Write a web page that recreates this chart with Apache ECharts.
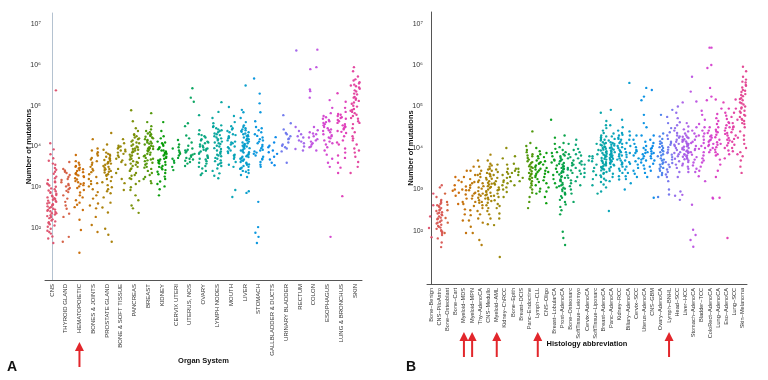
<!DOCTYPE html>
<html><head><meta charset="utf-8">
<script src="https://cdn.jsdelivr.net/npm/echarts@6/dist/echarts.min.js"></script>
<style>html,body{margin:0;padding:0;background:#fff}#c{width:768px;height:380px}</style>
</head><body><div id="c"></div>
<script>
// ---------- DATA (values are log10 of number of mutations) ----------
const yTickExponents = [2, 3, 4, 5, 6, 7];

const catsA = ['CNS','THYROID GLAND','HEMATOPOIETIC','BONES & JOINTS','PROSTATE GLAND','BONE & SOFT TISSUE','PANCREAS','BREAST','KIDNEY','CERVIX UTERI','UTERUS, NOS','OVARY','LYMPH NODES','MOUTH','LIVER','STOMACH','GALLBLADDER & DUCTS','URINARY BLADDER','RECTUM','COLON','ESOPHAGUS','LUNG & BRONCHUS','SKIN'];
const arrowsA = ['HEMATOPOIETIC'];

const A_CNS = [3.12,2.45,2.88,3.65,2.21,2.73,3.04,2.36,1.93,2.58,3.33,2.67,2.14,2.92,3.81,2.49,2.03,3.18,2.62,2.27,2.84,3.47,2.39,1.86,2.71,3.09,2.55,2.18,2.97,4.08,2.33,2.77,3.26,2.42,2.09,2.66,3.55,2.51,1.98,2.81,3.14,2.29,2.6,3.93,2.44,2.12,2.9,3.38,2.24,2.69,1.79,3.01,2.53,2.36,3.71,2.16,2.79,2.47,3.22,1.9,2.64,2.95,2.06,3.43,2.31,2.57,1.74,3.07,2.75,5.38,1.63,2.41,2.86,3.58];
const A_THYROID = [3.62,3.35,3.18,2.95,3.08,3.41,2.88,3.25,2.72,3.02,2.55,3.3,2.91,2.35,3.12,2.64,3.45,2.27,2.98,1.78,3.2,2.8,1.66,3.05,2.47,3.38];
const A_HEMATO = [3.79,3.55,3.42,3.31,3.48,3.22,3.6,3.15,3.37,3.05,3.27,3.52,2.98,3.44,3.1,3.33,2.87,3.19,3.64,2.75,3.02,2.62,3.4,2.93,2.51,3.25,2.8,2.44,3.12,1.95,3.5,2.68,3.35,1.39,3.08,2.57,3.29,2.2,3.46];
const A_BONESJ = [4.18,3.95,3.72,3.55,3.86,3.41,3.64,3.2,3.78,3.32,3.5,3.08,3.9,2.95,3.6,3.25,2.88,3.45,3.02,2.72,3.68,2.6,3.15,2.27,3.37,2.48,2.07,3.82,1.9,2.55,3.1,2.8];
const A_PROSTATE = [4.33,4.05,3.92,3.8,3.65,3.72,3.58,3.85,3.5,3.62,3.44,3.77,3.36,3.55,3.28,3.69,3.4,3.2,3.6,3.32,3.12,3.48,3.75,3.05,3.38,3.82,2.95,3.25,3.58,2.85,3.67,2.75,3.15,3.45,2.62,3.52,2.5,3.0,2.38,3.7,1.98,3.3,1.83,1.66,2.9,3.42];
const A_BST = [4.18,4.02,3.92,3.85,4.08,3.78,3.95,3.7,3.88,3.62,4.0,3.55,3.82,3.45,3.98,3.35,3.74,3.2,3.9,2.93,3.66,3.1];
const A_PANCREAS = [4.89,4.62,4.45,4.3,4.22,4.15,4.38,4.08,4.25,4.02,4.18,3.95,4.12,3.88,4.05,3.82,3.98,3.75,4.28,3.7,3.92,3.64,4.1,3.58,3.85,3.52,4.0,3.46,3.78,3.4,3.94,3.35,3.68,3.28,3.87,3.22,3.6,3.15,3.8,3.08,3.55,3.0,3.72,2.93,3.44,2.8,3.62,2.68,3.3,2.55,4.2,2.48,3.9,2.37,3.5,3.2];
const A_BREAST = [4.82,4.6,4.42,4.35,4.28,4.2,4.38,4.12,4.3,4.05,4.24,3.98,4.16,3.92,4.1,3.85,4.32,3.78,4.02,3.72,4.22,3.66,3.95,3.6,4.14,3.55,3.88,3.5,4.07,3.45,3.82,3.4,4.0,3.35,3.76,3.3,3.94,3.25,3.7,3.2,4.18,3.15,3.64,3.1,4.26,3.58,3.9,3.48,4.08,3.8,4.5,3.68,3.96];
const A_KIDNEY = [4.6,4.38,4.25,4.12,4.05,4.2,3.98,4.1,3.9,4.02,3.84,3.95,3.78,4.08,3.72,3.88,3.66,3.82,3.6,3.93,3.55,3.75,3.5,3.86,3.44,3.7,3.38,3.64,3.32,3.8,3.26,3.58,3.2,3.48,3.14,3.68,3.08,3.42,3.02,3.35,2.95,2.8,3.52,3.9,3.62];
const A_CERVIX = [4.16,3.95,4.05,3.82,3.9,3.7,3.78,3.6,3.86,3.5,3.72,3.42,3.98,3.65];
const A_UTERUS = [5.43,5.2,5.1,4.57,4.5,4.27,4.1,3.95,3.88,3.82,3.75,3.92,3.7,3.85,3.65,3.78,3.58,3.9,3.52,3.8,3.62,4.02,3.72,4.2,3.68];
const A_OVARY = [4.77,4.4,4.3,4.22,4.15,4.08,4.25,4.0,4.18,3.94,4.1,3.88,4.05,3.82,3.98,3.75,4.12,3.7,3.92,3.64,3.85,3.58,4.02,3.52,3.78,3.46,3.95,3.4,3.68,3.34,3.6,3.3,4.28,3.72,3.5,3.9];
const A_LYMPH = [5.09,4.85,4.7,4.57,4.48,4.4,4.52,4.32,4.45,4.25,4.38,4.18,4.3,4.12,4.42,4.06,4.22,4.0,4.35,3.94,4.15,3.88,4.28,3.82,4.08,3.76,4.2,3.7,4.02,3.64,3.96,3.58,3.9,3.52,3.85,3.46,3.78,3.4,3.72,3.34,3.66,3.28,3.6,3.22,4.1,3.8,4.5,3.55];
const A_MOUTH = [4.97,4.75,4.6,4.5,4.42,4.35,4.28,4.45,4.2,4.38,4.12,4.3,4.05,4.22,3.98,4.15,3.9,4.08,3.84,4.0,3.78,3.95,3.7,3.88,3.62,3.8,3.55,3.5,4.25,3.74,2.93,2.76,4.1];
const A_LIVER = [5.5,4.9,4.84,4.7,4.6,4.52,4.48,4.42,4.38,4.45,4.35,4.4,4.3,4.32,4.25,4.28,4.2,4.22,4.15,4.18,4.1,4.12,4.05,4.08,4.0,4.02,3.95,3.98,3.9,3.92,3.85,3.88,3.8,3.82,3.75,3.78,3.7,3.72,3.65,3.68,3.6,3.62,3.55,3.58,3.5,3.52,3.45,3.48,3.4,3.42,3.35,3.38,3.3,3.25,4.36,4.06,3.76,3.46,4.26,3.96,3.66,4.16,3.86,3.56,2.86,2.9,4.02,3.74];
const A_STOMACH = [5.67,5.3,5.06,4.84,4.62,4.48,4.4,4.3,4.22,4.35,4.15,4.26,4.08,4.18,4.0,4.12,3.92,4.04,3.85,3.96,3.78,3.9,3.7,3.82,3.62,3.75,3.55,3.68,3.5,4.45,3.88,2.64,2.02,1.88,1.78,1.63];
const A_GALL = [4.23,4.1,3.98,3.9,3.82,3.75,4.02,3.68,3.6,3.86,3.54];
const A_URINARY = [4.77,4.57,4.42,4.33,4.25,4.18,4.1,4.02,3.95,4.2,3.88,4.05,3.6,4.3,3.98];
const A_RECTUM = [6.36,4.48,4.38,4.3,4.22,4.15,4.08,4.0,3.94,4.12,3.9,4.25];
const A_COLON = [6.38,5.95,5.9,5.4,5.36,5.2,4.48,4.4,4.32,4.25,4.18,4.3,4.12,4.22,4.05,4.15,3.98,4.08,3.9,4.35,4.0];
const A_ESOPH = [5.14,4.95,4.82,4.75,4.68,4.62,4.72,4.55,4.65,4.48,4.58,4.42,4.52,4.35,4.45,4.28,4.38,4.2,4.3,4.12,4.22,4.05,4.15,3.98,4.08,3.9,3.8,3.7,3.6,3.5,4.6,4.25,1.78,4.4];
const A_LUNG = [5.31,5.1,4.95,4.85,4.78,4.72,4.8,4.65,4.75,4.58,4.7,4.52,4.62,4.45,4.55,4.38,4.48,4.33,4.42,4.25,4.15,4.05,3.95,3.85,3.72,3.6,3.48,3.35,4.68,4.36,4.1,3.78,2.78,4.5];
const A_SKIN = [5.95,5.85,5.72,5.65,5.58,5.5,5.62,5.45,5.55,5.38,5.48,5.3,5.42,5.22,5.35,5.15,5.28,5.08,5.2,5.0,5.12,4.92,5.05,4.85,4.98,4.78,4.9,4.7,4.82,4.62,4.75,4.55,4.68,4.45,4.35,4.25,4.15,4.05,3.95,3.85,3.75,3.62,3.5,3.35,5.52,5.18,4.88,4.58,4.2,3.9];

const catsB = ['Bone−Benign','CNS−PiloAstro','Bone−Osteoblast','Bone−Cart','Myeloid−MDS','Myeloid−MPN','Thy−AdenoCA','CNS−Medullo','Myeloid−AML','Kidney−ChRCC','Bone−Epith','Breast−DCIS','Panc−Endocrine','Lymph−CLL','CNS−Oligo','Breast−LobularCA','Prost−AdenoCA','Bone−Osteosarc','SoftTissue−Leiomyo','Cervix−AdenoCA','SoftTissue−Liposarc','Breast−AdenoCA','Panc−AdenoCA','Kidney−RCC','Biliary−AdenoCA','Cervix−SCC','Uterus−AdenoCA','CNS−GBM','Ovary−AdenoCA','Lymph−BNHL','Head−SCC','Liver−HCC','Stomach−AdenoCA','Bladder−TCC','ColoRect−AdenoCA','Lung−AdenoCA','Eso−AdenoCA','Lung−SCC','Skin−Melanoma'];
const arrowsB = ['Myeloid−MDS','Myeloid−MPN','Myeloid−AML','Lymph−CLL','Lymph−BNHL'];

const B_BoneBenign = [2.9,2.62,2.35,2.07,1.85];
const B_CNSPilo = [3.1,3.05,2.82,2.75,2.68,2.6,2.72,2.55,2.65,2.5,2.58,2.45,2.52,2.4,2.48,2.35,2.42,2.3,2.38,2.25,2.32,2.2,2.28,2.15,2.22,2.1,2.18,2.05,2.12,2.0,2.08,1.95,2.02,1.9,1.98,1.82,1.72,1.61,2.62,2.44];
const B_BoneOsteoblast = [2.9,2.63,2.5,2.31,2.2,1.95,2.7];
const B_BoneCart = [3.3,3.22,3.1,3.0,2.92,2.85,2.65,2.97];
const B_MDS = [3.45,3.3,3.18,3.07,2.98,2.88,2.78,2.65,2.52,2.4,2.25,1.95,3.0,2.7];
const B_MPN = [3.55,3.45,3.35,3.25,3.18,3.1,3.04,2.98,2.92,2.85,2.78,2.7,2.6,2.5,2.38,2.25,2.1,1.95,3.15,2.9];
const B_Thy = [3.7,3.55,3.45,3.38,3.3,3.22,3.15,3.08,3.02,2.96,2.9,2.85,2.8,2.74,2.68,2.62,2.55,2.48,2.4,2.3,2.2,1.78,1.66,3.35,3.05,2.88,2.7,3.18];
const B_Medullo = [3.84,3.7,3.62,3.55,3.5,3.45,3.4,3.36,3.32,3.28,3.24,3.2,3.16,3.12,3.08,3.04,3.0,2.96,2.92,2.88,2.84,2.8,2.76,2.72,2.68,2.62,2.55,2.48,2.4,2.3,2.16,3.48,3.26,3.06,2.86,3.38,3.14,2.94,3.58,2.78];
const B_AML = [3.6,3.48,3.42,3.35,3.28,3.2,3.12,3.05,2.98,2.9,2.82,2.74,2.65,2.55,2.42,2.3,2.14,1.37,3.15,2.85,3.0,2.6];
const B_ChRCC = [4.0,3.75,3.6,3.5,3.42,3.35,3.28,3.22,3.15,3.1,3.05,3.0,2.94,2.82,3.38,3.18];
const B_BoneEpith = [3.8,3.62,3.5,3.4,3.3,3.2,3.1,3.45];
const B_DCIS = [3.5,3.42,3.35,3.28,3.2];
const B_PancEndo = [4.4,4.12,4.05,3.95,3.9,3.85,3.8,3.76,3.72,3.68,3.64,3.6,3.56,3.52,3.48,3.44,3.4,3.36,3.32,3.28,3.24,3.2,3.15,3.1,3.05,3.0,2.92,2.82,2.7,2.55,3.82,3.54,3.26,3.66,3.38];
const B_CLL = [4.0,3.92,3.85,3.8,3.75,3.7,3.66,3.62,3.58,3.54,3.5,3.46,3.42,3.38,3.34,3.3,3.25,3.18,3.1,3.02,2.95,2.9,3.64,3.48];
const B_Oligo = [3.88,3.78,3.68,3.6,3.52,3.45,3.38,3.3,3.22,3.15,3.05,2.95,2.82,2.67,3.42];
const B_Lobular = [4.68,4.25,4.1,3.98,3.88,3.8,3.72,3.65,3.58,3.5,3.42,3.35,3.25,3.15,3.05,3.7,3.9];
const B_Prost = [4.3,4.12,4.02,3.95,3.9,3.85,3.8,3.76,3.72,3.68,3.64,3.6,3.56,3.52,3.48,3.44,3.4,3.36,3.32,3.28,3.24,3.2,3.16,3.12,3.08,3.04,3.0,2.96,2.92,2.88,2.84,2.8,2.75,2.7,2.64,2.58,2.5,2.4,1.98,1.83,1.66,3.7,3.5,3.3,3.1,2.9,3.62,3.42,3.22,3.02,3.82,3.55];
const B_Osteosarc = [4.1,3.95,3.85,3.78,3.7,3.64,3.58,3.52,3.46,3.4,3.34,3.28,3.22,3.15,3.08,3.0,2.9,2.7,3.6,3.75,3.48];
const B_Leiomyo = [4.2,4.08,3.98,3.9,3.82,3.75,3.68,3.6,3.52,3.45,3.38,3.3,3.2,3.1,3.85,3.64];
const B_CervixAdeno = [3.8,3.7,3.6,3.5,3.4,3.3];
const B_Liposarc = [4.1,3.95,3.85,3.75,3.68,3.6,3.52,3.44,3.35,3.25,3.1,2.9,3.8];
const B_BreastAdeno = [4.85,4.65,4.55,4.48,4.42,4.36,4.3,4.26,4.22,4.18,4.14,4.1,4.06,4.02,3.98,3.94,3.9,3.86,3.82,3.78,3.74,3.7,3.66,3.62,3.58,3.54,3.5,3.46,3.42,3.38,3.34,3.3,3.26,3.22,3.18,3.12,3.05,2.95,4.28,4.08,3.88,3.68,3.48,4.2,4.0,3.8,3.6,3.4,4.12,3.92,3.72,3.52,3.96,3.76,3.56,4.04,3.84,3.64];
const B_PancAdeno = [4.92,4.55,4.35,4.28,4.22,4.18,4.14,4.1,4.06,4.02,3.98,3.94,3.9,3.86,3.82,3.78,3.74,3.7,3.66,3.62,3.58,3.54,3.5,3.45,3.38,3.3,3.2,2.48,4.08,3.96,3.84,3.72,3.6,4.0,3.88,3.76,3.64,4.12,3.8,3.92,3.68];
const B_KidneyRCC = [4.68,4.5,4.42,4.36,4.3,4.25,4.2,4.15,4.1,4.05,4.0,3.95,3.9,3.85,3.8,3.75,3.7,3.65,3.6,3.55,3.5,3.45,3.4,3.32,3.24,4.22,4.02,3.82,3.62,4.12,3.92,3.72,4.32];
const B_Biliary = [5.57,4.4,4.3,4.2,4.12,4.05,3.98,3.9,3.84,3.78,3.7,3.62,3.55,3.48,3.4,3.32,3.25,3.15,3.0,3.88,3.66];
const B_CervixSCC = [4.3,4.2,4.1,4.02,3.95,3.88,3.82,3.75,3.68,3.6,3.52,3.45,3.38,3.3,3.92];
const B_UterusAdeno = [5.45,5.24,5.15,4.8,4.6,4.5,4.3,4.15,4.05,4.0,3.95,3.9,3.85,3.8,3.75,3.7,3.65,3.58,3.5,3.4,3.3,3.88,3.72];
const B_GBM = [5.4,4.3,4.2,4.12,4.05,3.98,3.92,3.86,3.8,3.75,3.7,3.62,3.55,3.45,2.8,4.0,3.88];
const B_Ovary = [4.8,4.35,4.28,4.22,4.16,4.1,4.05,4.0,3.95,3.9,3.85,3.8,3.75,3.7,3.65,3.6,3.55,3.5,3.45,3.4,3.35,3.3,4.12,3.92,3.72,3.52,4.02,3.82,3.62,2.82];
const B_BNHL = [4.92,4.75,4.6,4.48,4.38,4.3,4.22,4.15,4.08,4.02,3.96,3.9,3.84,3.78,3.72,3.66,3.6,3.54,3.48,3.42,3.36,3.3,3.2,3.0,2.88,4.12,3.88,3.64];
const B_HeadSCC = [5.0,4.85,4.72,4.62,4.55,4.48,4.42,4.36,4.3,4.25,4.2,4.15,4.1,4.05,4.0,3.95,3.9,3.85,3.8,3.74,3.68,3.6,3.52,3.42,3.3,2.95,2.75,2.85,4.28,4.08,3.88];
const B_LiverHCC = [5.1,4.6,4.52,4.45,4.4,4.35,4.3,4.27,4.24,4.21,4.18,4.15,4.12,4.09,4.06,4.03,4.0,3.97,3.94,3.91,3.88,3.85,3.82,3.79,3.76,3.73,3.7,3.66,3.62,3.58,3.55,3.5,3.42,2.87,4.2,4.1,4.0,3.9,3.8,4.16,4.04,3.96,3.84,4.26,3.74,4.08,3.92];
const B_Stomach = [5.72,5.36,5.12,4.5,4.42,4.35,4.28,4.2,4.12,4.05,3.98,3.9,3.84,3.78,3.72,3.65,3.58,3.5,3.42,4.15,3.95,2.63,2.03,1.9,1.78,1.62];
const B_Bladder = [4.9,4.8,4.68,4.58,4.5,4.42,4.35,4.28,4.2,4.12,4.05,3.98,3.9,3.82,3.75,3.65,3.55,3.45,3.32,3.2,4.3,4.0,3.7];
const B_ColoRect = [6.42,6.42,6.0,5.93,5.45,5.24,5.15,4.5,4.42,4.36,4.3,4.25,4.2,4.15,4.1,4.05,4.0,3.95,3.9,4.28,4.08,2.8,2.78,4.18];
const B_LungAdeno = [5.17,4.95,4.82,4.72,4.65,4.58,4.5,4.44,4.38,4.32,4.26,4.2,4.14,4.08,4.02,3.96,3.9,3.82,3.72,3.6,3.45,3.3,2.8,4.4,4.1,3.85];
const B_EsoAdeno = [5.1,4.95,4.85,4.78,4.7,4.62,4.55,4.48,4.42,4.36,4.3,4.24,4.18,4.12,4.06,4.0,3.94,3.85,3.75,1.83,4.5,4.2,4.6,4.34];
const B_LungSCC = [5.17,4.95,4.85,4.75,4.68,4.6,4.52,4.45,4.38,4.3,4.22,4.15,4.08,4.0,3.92,3.85,4.5,4.25];
const B_Skin = [5.96,5.85,5.72,5.65,5.58,5.52,5.46,5.4,5.35,5.3,5.25,5.2,5.15,5.1,5.05,5.0,4.95,4.9,4.85,4.8,4.75,4.7,4.65,4.6,4.5,4.4,4.3,4.2,4.1,4.0,3.9,3.8,3.7,3.55,3.4,5.6,5.38,5.18,4.98,4.78,4.58,5.5,5.28,5.08,4.88,4.68];

const valuesA = [A_CNS,A_THYROID,A_HEMATO,A_BONESJ,A_PROSTATE,A_BST,A_PANCREAS,A_BREAST,A_KIDNEY,A_CERVIX,A_UTERUS,A_OVARY,A_LYMPH,A_MOUTH,A_LIVER,A_STOMACH,A_GALL,A_URINARY,A_RECTUM,A_COLON,A_ESOPH,A_LUNG,A_SKIN];
const valuesB = [B_BoneBenign,B_CNSPilo,B_BoneOsteoblast,B_BoneCart,B_MDS,B_MPN,B_Thy,B_Medullo,B_AML,B_ChRCC,B_BoneEpith,B_DCIS,B_PancEndo,B_CLL,B_Oligo,B_Lobular,B_Prost,B_Osteosarc,B_Leiomyo,B_CervixAdeno,B_Liposarc,B_BreastAdeno,B_PancAdeno,B_KidneyRCC,B_Biliary,B_CervixSCC,B_UterusAdeno,B_GBM,B_Ovary,B_BNHL,B_HeadSCC,B_LiverHCC,B_Stomach,B_Bladder,B_ColoRect,B_LungAdeno,B_EsoAdeno,B_LungSCC,B_Skin];

// ---------- STYLE HELPERS ----------
function hcl(h, c, l) {
  const Xn = 95.047, Yn = 100, Zn = 108.883;
  const hr = h * Math.PI / 180, u = c * Math.cos(hr), v = c * Math.sin(hr);
  const Y = l > 8 ? Yn * Math.pow((l + 16) / 116, 3) : Yn * l / 903.3;
  const d = Xn + 15 * Yn + 3 * Zn, un = 4 * Xn / d, vn = 9 * Yn / d;
  const up = u / (13 * l) + un, vp = v / (13 * l) + vn;
  const X = Y * 9 * up / (4 * vp), Z = Y * (12 - 3 * up - 20 * vp) / (4 * vp);
  const x = X / 100, y = Y / 100, z = Z / 100;
  const lin = [3.2406*x - 1.5372*y - 0.4986*z, -0.9689*x + 1.8758*y + 0.0415*z, 0.0557*x - 0.2040*y + 1.0570*z];
  const g = lin.map(t => { t = t <= 0.0031308 ? 12.92 * t : 1.055 * Math.pow(t, 1/2.4) - 0.055; return Math.round(Math.max(0, Math.min(1, t)) * 255); });
  return 'rgb(' + g.join(',') + ')';
}
function palette(n) { const out = []; for (let i = 0; i < n; i++) out.push(hcl(4 + 352 * i / n, 100, 54)); return out; }
// deterministic (hash-based) horizontal spread of points inside a category band: layout only
function spread(k, i) {
  let h = Math.imul(k + 1, 374761393) ^ Math.imul(i + 7, 668265263);
  h = Math.imul(h ^ (h >>> 13), 1274126177);
  h = h ^ (h >>> 16);
  return ((h >>> 0) % 10000) / 10000 - 0.5;
}

const sup = {2:'²',3:'³',4:'⁴',5:'⁵',6:'⁶',7:'⁷'};
const FONT = 'Liberation Sans';

function buildSeries(values, xAxisIndex, yAxisIndex, width) {
  const cols = palette(values.length);
  return values.map((vals, i) => ({
    type: 'scatter', xAxisIndex, yAxisIndex, silent: true, symbolSize: 2.4,
    itemStyle: { color: cols[i], opacity: 0.95 },
    data: vals.map((v, k) => [i + spread(k, i) * width, v])
  }));
}

function yAxisCfg(gridIndex, lineColor) {
  return {
    type: 'value', gridIndex, min: 0.72, max: 7.28,
    axisLine: { show: true, lineStyle: { color: lineColor, width: 1 } },
    axisTick: { show: false }, splitLine: { show: false },
    axisLabel: { customValues: yTickExponents, formatter: v => '10' + sup[Math.round(v)], fontSize: 7, color: '#333', margin: 4, fontFamily: FONT },
    name: 'Number of mutations', nameLocation: 'middle', nameGap: 12, nameMoveOverlap: false,
    nameTextStyle: { fontWeight: 'bold', fontSize: 7.5, color: '#111', fontFamily: FONT }
  };
}
function catAxisCfg(gridIndex, data, name, gap, fs) {
  return {
    type: 'category', gridIndex, data, boundaryGap: true,
    axisTick: { show: false }, axisLine: { lineStyle: { color: '#555', width: 1 } },
    axisLabel: { rotate: 90, interval: 0, fontSize: fs, color: '#333', margin: 4, fontFamily: FONT },
    name, nameLocation: 'middle', nameGap: gap, nameMoveOverlap: false,
    nameTextStyle: { fontWeight: 'bold', fontSize: 7.5, color: '#111', fontFamily: FONT }
  };
}

const chart = echarts.init(document.getElementById('c'), null, { renderer: 'canvas' });
chart.setOption({
  animation: false,
  backgroundColor: '#fff',
  grid: [
    { left: 45, right: 406, top: 13, bottom: 100 },
    { left: 427, right: 21, top: 12, bottom: 96 }
  ],
  xAxis: [
    catAxisCfg(0, catsA, 'Organ System', 77, 6),
    { type: 'value', gridIndex: 0, min: -0.5, max: catsA.length - 0.5, show: false },
    catAxisCfg(1, catsB, 'Histology abbreviation', 56, 5.6),
    { type: 'value', gridIndex: 1, min: -0.5, max: catsB.length - 0.5, show: false }
  ],
  yAxis: [ yAxisCfg(0, '#b4c2d0'), yAxisCfg(1, '#555') ],
  series: [].concat(buildSeries(valuesA, 1, 0, 0.7), buildSeries(valuesB, 3, 1, 0.8))
});

// annotations: red arrows under highlighted categories, panel letters
function arrow(x, top, bottom) {
  return { type: 'group', silent: true, children: [
    { type: 'line', shape: { x1: x, y1: top + 6, x2: x, y2: bottom }, style: { stroke: '#e2262b', lineWidth: 2 } },
    { type: 'polygon', shape: { points: [[x - 4.5, top + 9], [x, top], [x + 4.5, top + 9]] }, style: { fill: '#e2262b' } }
  ]};
}
const gfx = [];
arrowsA.forEach(c => gfx.push(arrow(chart.convertToPixel({ xAxisIndex: 0 }, c), 342, 367)));
arrowsB.forEach(c => gfx.push(arrow(chart.convertToPixel({ xAxisIndex: 2 }, c), 332, 357)));
gfx.push({ type: 'text', left: 7, top: 360, style: { text: 'A', font: 'bold 14px ' + FONT, fill: '#111' } });
gfx.push({ type: 'text', left: 406, top: 360, style: { text: 'B', font: 'bold 14px ' + FONT, fill: '#111' } });
chart.setOption({ graphic: gfx });
</script></body></html>
